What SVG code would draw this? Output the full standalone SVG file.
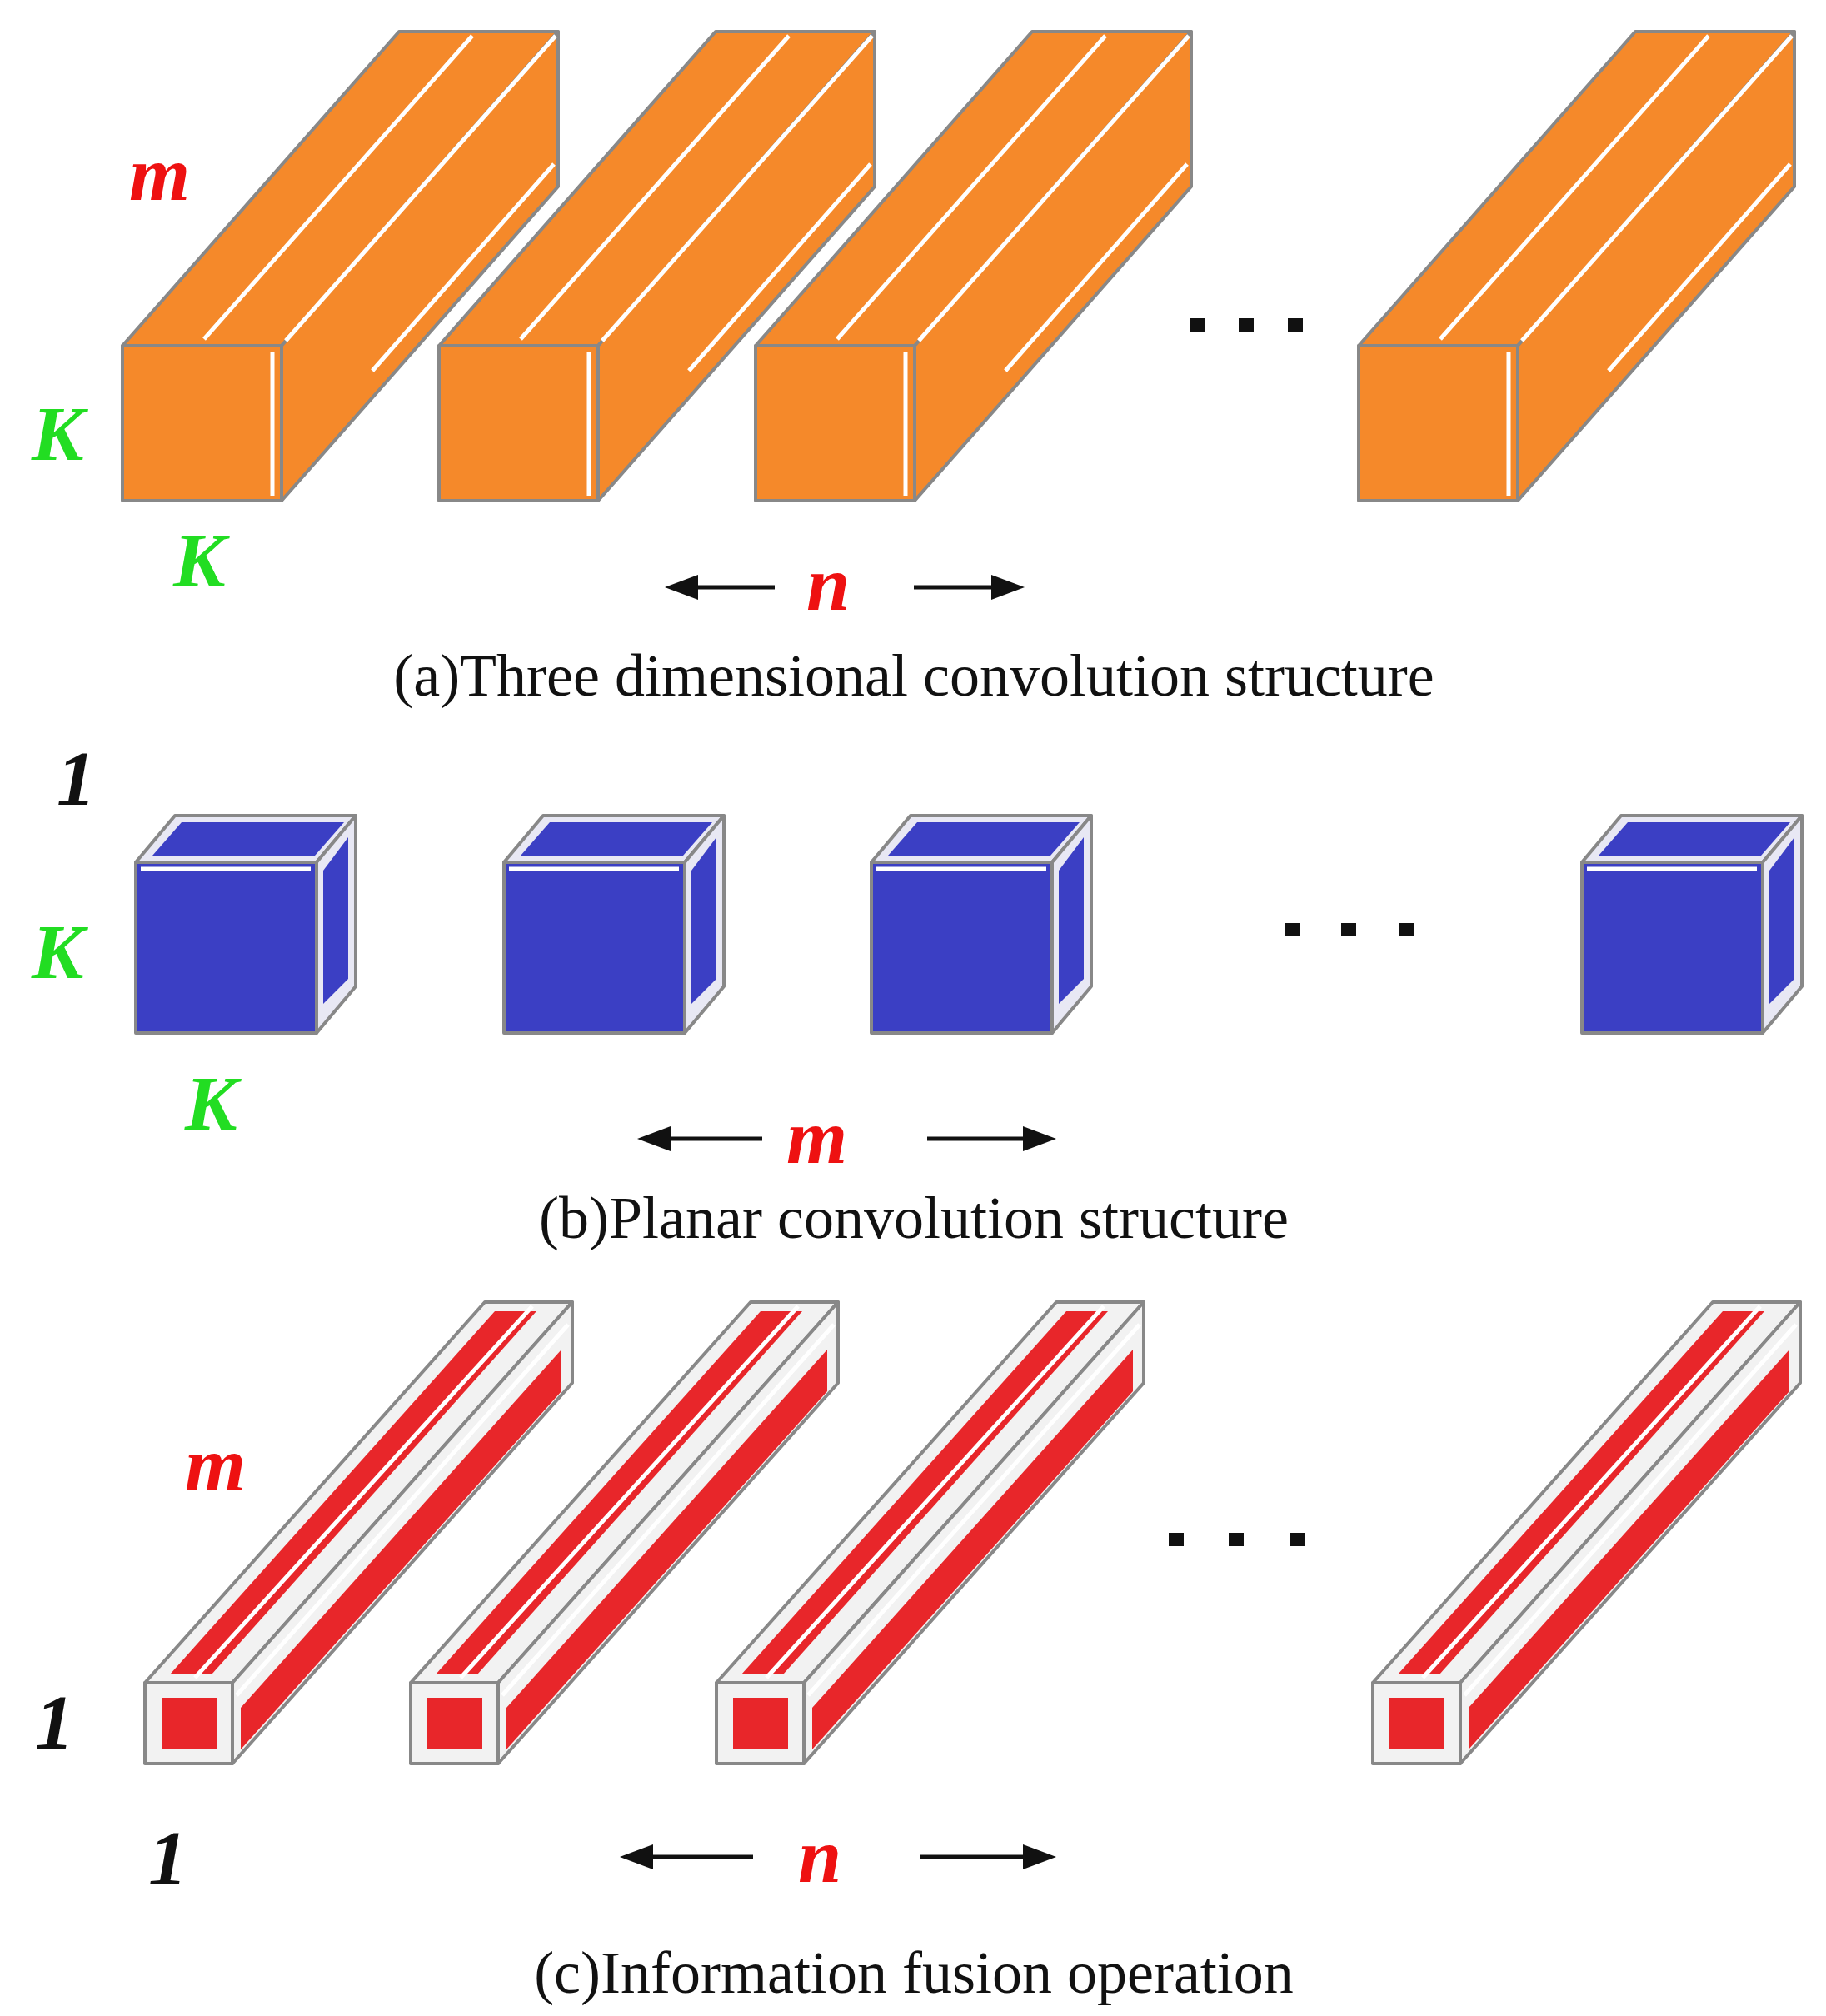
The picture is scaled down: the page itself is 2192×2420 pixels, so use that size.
<svg xmlns="http://www.w3.org/2000/svg" width="2192" height="2420" viewBox="0 0 2192 2420">
<style>
.lab{font-family:"Liberation Serif",serif;font-weight:bold;font-style:italic;font-size:94px}
.r{fill:#ee1111}.g{fill:#22dd22}.k{fill:#111}
.cap{font-family:"Liberation Serif",serif;font-size:72px;fill:#111;text-anchor:middle}
.edge{stroke:#888;stroke-width:4;stroke-linejoin:round}
.wl{stroke:#fff;stroke-width:5;fill:none}
.arr{stroke:#111;stroke-width:5;marker-end:url(#ah)}
</style>
<defs>
<marker id="ah" markerWidth="8" markerHeight="6" refX="6" refY="3" orient="auto" markerUnits="strokeWidth"><path d="M0,0L8,3L0,6z" fill="#111"/></marker>
<g id="ob">
<polygon class="edge" points="0,0 332,-377 523,-377 191,0" fill="#f5892a"/>
<polygon class="edge" points="191,0 523,-377 523,-191 191,186" fill="#f5892a"/>
<rect class="edge" x="0" y="0" width="191" height="186" fill="#f5892a"/>
<path class="wl" d="M180,8V180M196,-6L520,-372M98,-8L420,-372M300,30L518,-218"/>
</g>
<g id="bc">
<polygon class="edge" points="0,0 47,-56 264,-56 217,0" fill="#e8e8f4"/>
<polygon class="edge" points="217,0 264,-56 264,149 217,205" fill="#e8e8f4"/>
<polygon points="20,-8 55,-48 250,-48 215,-8" fill="#3b3fc4"/>
<polygon points="225,10 255,-30 255,140 225,170" fill="#3b3fc4"/>
<rect class="edge" x="0" y="0" width="217" height="205" fill="#3b3fc4"/>
<path class="wl" d="M6,8H210"/>
</g>
<g id="rb">
<polygon class="edge" points="0,0 408,-457 513,-457 105,0" fill="#f2f2f2"/>
<polygon class="edge" points="105,0 513,-457 513,-360 105,97" fill="#f2f2f2"/>
<polygon points="30,-10 420,-446 470,-446 80,-10" fill="#e8262a"/>
<polygon points="115,30 500,-400 500,-350 115,80" fill="#e8262a"/>
<rect class="edge" x="0" y="0" width="105" height="97" fill="#f2f2f2"/>
<rect x="20" y="18" width="66" height="62" fill="#e8262a"/>
<path class="wl" d="M60,-6L465,-452M110,15L508,-430"/>
</g>
</defs>
<rect width="2192" height="2420" fill="#fff"/>
<g id="section-a">
<use href="#ob" x="147" y="415"/><use href="#ob" x="527" y="415"/><use href="#ob" x="907" y="415"/><use href="#ob" x="1631" y="415"/>
<g class="k"><rect x="1428" y="382" width="18" height="16"/><rect x="1487" y="382" width="18" height="16"/><rect x="1546" y="382" width="18" height="16"/></g>
<text class="lab r" x="155" y="240">m</text>
<text class="lab g" x="38" y="552">K</text>
<text class="lab g" x="208" y="704">K</text>
<text class="lab r" x="968" y="732">n</text>
<text class="cap" x="1097" y="835">(a)Three dimensional convolution structure</text>
</g>
<g id="section-b">
<use href="#bc" x="163" y="1035"/><use href="#bc" x="605" y="1035"/><use href="#bc" x="1046" y="1035"/><use href="#bc" x="1899" y="1035"/>
<g class="k"><rect x="1542" y="1108" width="18" height="16"/><rect x="1610" y="1108" width="18" height="16"/><rect x="1679" y="1108" width="18" height="16"/></g>
<text class="lab k" x="68" y="966">1</text>
<text class="lab g" x="38" y="1174">K</text>
<text class="lab g" x="222" y="1356">K</text>
<text class="lab r" x="944" y="1396">m</text>
<text class="cap" x="1097" y="1486">(b)Planar convolution structure</text>
</g>
<g id="section-c">
<use href="#rb" x="174" y="2020"/><use href="#rb" x="493" y="2020"/><use href="#rb" x="860" y="2020"/><use href="#rb" x="1648" y="2020"/>
<g class="k"><rect x="1403" y="1840" width="18" height="16"/><rect x="1475" y="1840" width="18" height="16"/><rect x="1548" y="1840" width="18" height="16"/></g>
<text class="lab r" x="222" y="1789">m</text>
<text class="lab k" x="42" y="2099">1</text>
<text class="lab k" x="178" y="2262">1</text>
<text class="lab r" x="958" y="2259">n</text>
<text class="cap" x="1097" y="2392">(c)Information fusion operation</text>
</g>
<g id="connectors">
<line class="arr" x1="930" y1="705" x2="808" y2="705"/><line class="arr" x1="1097" y1="705" x2="1220" y2="705"/>
<line class="arr" x1="915" y1="1367" x2="775" y2="1367"/><line class="arr" x1="1113" y1="1367" x2="1258" y2="1367"/>
<line class="arr" x1="904" y1="2229" x2="754" y2="2229"/><line class="arr" x1="1105" y1="2229" x2="1258" y2="2229"/>
</g>
</svg>
